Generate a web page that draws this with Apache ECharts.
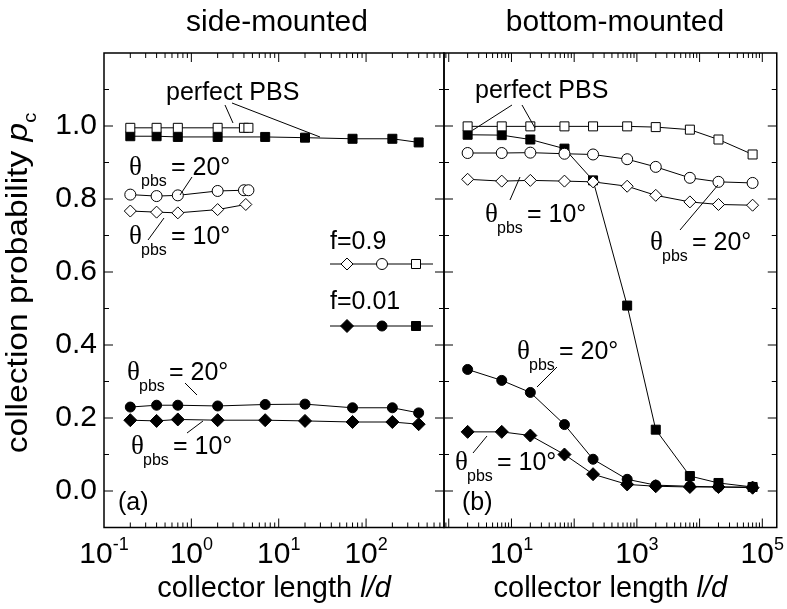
<!DOCTYPE html>
<html>
<head>
<meta charset="utf-8">
<script src="https://cdn.jsdelivr.net/npm/echarts@6/dist/echarts.min.js"></script>
<style>
html, body { margin: 0; padding: 0; background: #fff; }
#chart { width: 787px; height: 609px; }
</style>
</head>
<body>
<div id="chart"></div>
<script>
// ---------- panel (a): side-mounted collector ----------
const sideLenF09Sq = [0.2, 0.4, 0.7, 2, 4, 4.5];
const sideF09Sq    = [0.995, 0.995, 0.995, 0.995, 0.995, 0.995];
const sideLenF09Ci = [0.2, 0.4, 0.7, 2, 4, 4.5];
const sideF09Ci    = [0.812, 0.808, 0.810, 0.822, 0.824, 0.824];
const sideLenF09Di = [0.2, 0.4, 0.7, 2, 4.2];
const sideF09Di    = [0.767, 0.764, 0.762, 0.771, 0.785];
const sideLenF001  = [0.2, 0.4, 0.7, 2, 7, 20, 70, 200, 400];
const sideF001Sq   = [0.972, 0.972, 0.970, 0.970, 0.970, 0.968, 0.965, 0.965, 0.955];
const sideF001Ci   = [0.230, 0.235, 0.235, 0.233, 0.237, 0.238, 0.228, 0.228, 0.214];
const sideF001Di   = [0.194, 0.192, 0.196, 0.194, 0.194, 0.192, 0.189, 0.189, 0.183];

// ---------- panel (b): bottom-mounted collector ----------
const botLen     = [2, 7, 20, 70, 200, 700, 2000, 7000, 20000, 70000];
const botF09Sq   = [0.999, 0.999, 0.999, 0.999, 0.999, 0.999, 0.997, 0.990, 0.963, 0.922];
const botF09Ci   = [0.926, 0.926, 0.927, 0.924, 0.922, 0.909, 0.888, 0.858, 0.847, 0.844];
const botF09Di   = [0.854, 0.849, 0.851, 0.849, 0.847, 0.835, 0.810, 0.792, 0.785, 0.783];
const botF001Sq  = [0.976, 0.975, 0.963, 0.938, 0.851, 0.508, 0.168, 0.041, 0.022, 0.011];
const botF001Ci  = [0.333, 0.303, 0.270, 0.182, 0.087, 0.032, 0.016, 0.013, 0.011, 0.011];
const botF001Di  = [0.162, 0.162, 0.152, 0.100, 0.046, 0.018, 0.013, 0.011, 0.011, 0.009];

// axis ranges and tick values
const sideRange = [0.1, 780];
const botRange  = [0.84, 1.7e5];
const yRange    = [-0.1, 1.2];
const yMajorTicks = [0, 0.2, 0.4, 0.6, 0.8, 1.0];
const yMinorTicks = [0.1, 0.3, 0.5, 0.7, 0.9, 1.1];
const panelTitles = ['side-mounted', 'bottom-mounted'];

const FONT  = '"Liberation Sans", Arial, Helvetica, sans-serif';
const SERIF = '"Liberation Serif", "DejaVu Serif", serif';

const pairs = (xs, ys) => xs.map((x, i) => [x, ys[i]]);

// decade ticks (major) and 2..9 ticks (minor) inside a log range
function logTicks(range) {
  const out = [];
  const lo = Math.floor(Math.log10(range[0])), hi = Math.ceil(Math.log10(range[1]));
  for (let e = lo; e <= hi; e++) {
    for (let m = 1; m <= 9; m++) {
      const v = m * Math.pow(10, e);
      if (v > range[0] * 1.001 && v < range[1] * 0.999) out.push([v, m === 1 ? 1 : 0]);
    }
  }
  return out;
}

function dataSeries(grid, xs, ys, symbol, filled, size, z) {
  return {
    type: 'line', xAxisIndex: grid, yAxisIndex: grid,
    data: pairs(xs, ys), symbol: symbol, symbolSize: size, showSymbol: true,
    lineStyle: { color: '#000', width: 1 },
    itemStyle: { color: filled ? '#000' : '#fff', borderColor: '#000', borderWidth: 1 },
    z: z, animation: false, emphasis: { disabled: true }, clip: false
  };
}

function xTickSeries(grid, range) {
  return {
    type: 'custom', xAxisIndex: grid, yAxisIndex: grid, silent: true, animation: false, z: 1,
    data: logTicks(range).map(t => [t[0], 0.5, t[1]]),
    renderItem: function (params, api) {
      const cs = params.coordSys;
      const x = api.coord([api.value(0), 0.5])[0];
      const len = api.value(2) ? 9 : 5;
      const b = cs.y + cs.height, t = cs.y;
      return { type: 'group', children: [
        { type: 'line', shape: { x1: x, y1: b, x2: x, y2: b - len }, style: { stroke: '#000', lineWidth: 1 } },
        { type: 'line', shape: { x1: x, y1: t, x2: x, y2: t + len }, style: { stroke: '#000', lineWidth: 1 } }
      ]};
    }
  };
}

function yTickSeries(grid) {
  const d = yMajorTicks.map(v => [1, v, 1]).concat(yMinorTicks.map(v => [1, v, 0]));
  return {
    type: 'custom', xAxisIndex: grid, yAxisIndex: grid, silent: true, animation: false, z: 1,
    data: d,
    renderItem: function (params, api) {
      const cs = params.coordSys;
      const y = api.coord([1, api.value(1)])[1];
      const len = api.value(2) ? 9 : 5;
      const l = cs.x, r = cs.x + cs.width;
      return { type: 'group', children: [
        { type: 'line', shape: { x1: l, y1: y, x2: l + len, y2: y }, style: { stroke: '#000', lineWidth: 1 } },
        { type: 'line', shape: { x1: r, y1: y, x2: r - len, y2: y }, style: { stroke: '#000', lineWidth: 1 } }
      ]};
    }
  };
}

function powLabel(oddOnly) {
  return function (v) {
    const e = Math.log10(v), k = Math.round(e);
    if (Math.abs(e - k) > 1e-6) return '';
    if (oddOnly && Math.abs(k % 2) !== 1) return '';
    return '{b|10}{s|' + k + '}';
  };
}

const tickRich = {
  b: { fontSize: 30, fontFamily: FONT, color: '#000', lineHeight: 36 },
  s: { fontSize: 18, fontFamily: FONT, color: '#000', verticalAlign: 'top', lineHeight: 36 }
};
const nameRich = {
  n: { fontSize: 29, fontFamily: FONT, color: '#000' },
  i: { fontSize: 29, fontFamily: FONT, color: '#000', fontStyle: 'italic' }
};

function xAxis(grid, range, oddOnly) {
  return {
    type: 'log', logBase: 10, gridIndex: grid, min: range[0], max: range[1],
    axisLine: { show: false }, axisTick: { show: false }, splitLine: { show: false },
    minorTick: { show: false },
    axisLabel: { formatter: powLabel(oddOnly), rich: tickRich, margin: 9, showMinLabel: true, showMaxLabel: true },
    name: '{n|collector length }{i|l/d}', nameLocation: 'middle', nameGap: 46,
    nameTextStyle: { rich: nameRich }
  };
}

function yAxis(grid, showLabels) {
  return {
    type: 'value', gridIndex: grid, min: yRange[0], max: yRange[1], interval: 0.1,
    axisLine: { show: false }, axisTick: { show: false }, splitLine: { show: false },
    axisLabel: {
      show: showLabels, margin: 7, fontSize: 30, fontFamily: FONT, color: '#000',
      formatter: function (v) {
        const k = Math.round(v * 10);
        return (k >= 0 && k <= 10 && k % 2 === 0) ? (k / 10).toFixed(1) : '';
      }
    }
  };
}

// ---------- annotation graphics ----------
const g = [];
function txt(x, y, text, size, opts) {
  g.push(Object.assign({
    type: 'text', x: x, y: y, silent: true, z: 50,
    style: { text: text, fontSize: size, fontFamily: FONT, fill: '#000', align: 'left', verticalAlign: 'middle' }
  }, opts || {}));
}
function seg(x1, y1, x2, y2) {
  g.push({ type: 'line', silent: true, z: 50, shape: { x1: x1, y1: y1, x2: x2, y2: y2 }, style: { stroke: '#000', lineWidth: 1 } });
}
function thetaLabel(x0, y0, deg) {
  g.push({ type: 'text', x: x0, y: y0, silent: true, z: 50,
    style: { text: 'θ', fontSize: 27, fontFamily: SERIF, fill: '#000', align: 'left', verticalAlign: 'middle' } });
  txt(x0 + 12, y0 + 14, 'pbs', 16);
  txt(x0 + 42, y0, '= ' + deg + '°', 25);
}

// titles
g.push({ type: 'text', x: 277, y: 23, silent: true,
  style: { text: panelTitles[0], fontSize: 30, fontFamily: FONT, fill: '#000', align: 'center', verticalAlign: 'middle' } });
g.push({ type: 'text', x: 615, y: 23, silent: true,
  style: { text: panelTitles[1], fontSize: 30, fontFamily: FONT, fill: '#000', align: 'center', verticalAlign: 'middle' } });

// y-axis title (stretched slightly along its length)
g.push({ type: 'text', x: 19, y: 283, rotation: Math.PI / 2, scaleX: 1.12, silent: true,
  style: {
    text: '{n|collection probability }{i|p}{c|c}', align: 'center', verticalAlign: 'middle',
    rich: {
      n: { fontSize: 30, fontFamily: FONT, fill: '#000' },
      i: { fontSize: 30, fontFamily: FONT, fill: '#000', fontStyle: 'italic' },
      c: { fontSize: 18, fontFamily: FONT, fill: '#000', verticalAlign: 'bottom', lineHeight: 42 }
    }
  } });

// panel (a) annotations
txt(166, 93, 'perfect PBS', 25);
seg(225, 105, 233, 123);
seg(232, 103, 320, 137);
thetaLabel(129, 168, 20);
seg(192, 177, 180, 195);
thetaLabel(129, 237, 10);
seg(164, 218, 148, 240);
thetaLabel(127, 373, 20);
seg(185, 383, 197, 395);
thetaLabel(131, 447, 10);
seg(187, 433, 203, 421);
txt(118, 503, '(a)', 25);

// legend
txt(330, 242, 'f=0.9', 25);
seg(330, 264, 433, 264);
g.push({ type: 'polygon', z: 51, shape: { points: [[347, 258], [353, 264], [347, 270], [341, 264]] }, style: { fill: '#fff', stroke: '#000', lineWidth: 1 } });
g.push({ type: 'circle', z: 51, shape: { cx: 382, cy: 264, r: 5.5 }, style: { fill: '#fff', stroke: '#000', lineWidth: 1 } });
g.push({ type: 'rect', z: 51, shape: { x: 411.5, y: 259.5, width: 9, height: 9 }, style: { fill: '#fff', stroke: '#000', lineWidth: 1 } });
txt(330, 302, 'f=0.01', 25);
seg(330, 326, 433, 326);
g.push({ type: 'polygon', z: 51, shape: { points: [[347, 319.5], [353.5, 326], [347, 332.5], [340.5, 326]] }, style: { fill: '#000', stroke: '#000', lineWidth: 1 } });
g.push({ type: 'circle', z: 51, shape: { cx: 382, cy: 326, r: 5 }, style: { fill: '#000', stroke: '#000', lineWidth: 1 } });
g.push({ type: 'rect', z: 51, shape: { x: 411.5, y: 321.5, width: 9, height: 9 }, style: { fill: '#000', stroke: '#000', lineWidth: 1 } });

// panel (b) annotations
txt(475, 91, 'perfect PBS', 25);
seg(512, 105, 473, 130);
seg(522, 105, 535, 128);
thetaLabel(485, 215, 10);
seg(520, 177, 510, 200);
thetaLabel(650, 243, 20);
seg(718, 185, 680, 230);
thetaLabel(517, 352, 20);
seg(557, 367, 537, 387);
thetaLabel(455, 463, 10);
seg(487, 436, 473, 453);
txt(462, 503, '(b)', 25);

const option = {
  backgroundColor: '#fff',
  animation: false,
  grid: [
    { left: 104, top: 53, width: 340, height: 474.5, show: true, borderColor: '#000', borderWidth: 1.5, backgroundColor: 'transparent' },
    { left: 444, top: 53, width: 338, height: 474.5, show: true, borderColor: '#000', borderWidth: 1.5, backgroundColor: 'transparent' }
  ],
  xAxis: [xAxis(0, sideRange, false), xAxis(1, botRange, true)],
  yAxis: [yAxis(0, true), yAxis(1, false)],
  series: [
    xTickSeries(0, sideRange), xTickSeries(1, botRange),
    yTickSeries(0), yTickSeries(1),
    // f = 0.01 (filled)
    dataSeries(0, sideLenF001, sideF001Sq, 'rect', true, 9, 10),
    dataSeries(0, sideLenF001, sideF001Ci, 'circle', true, 10, 10),
    dataSeries(0, sideLenF001, sideF001Di, 'diamond', true, 13, 10),
    dataSeries(1, botLen, botF001Sq, 'rect', true, 9, 10),
    dataSeries(1, botLen, botF001Ci, 'circle', true, 10, 10),
    dataSeries(1, botLen, botF001Di, 'diamond', true, 13, 10),
    // f = 0.9 (open)
    dataSeries(0, sideLenF09Sq, sideF09Sq, 'rect', false, 9, 11),
    dataSeries(0, sideLenF09Ci, sideF09Ci, 'circle', false, 11, 11),
    dataSeries(0, sideLenF09Di, sideF09Di, 'diamond', false, 12, 11),
    dataSeries(1, botLen, botF09Sq, 'rect', false, 9, 11),
    dataSeries(1, botLen, botF09Ci, 'circle', false, 11, 11),
    dataSeries(1, botLen, botF09Di, 'diamond', false, 12, 11)
  ],
  graphic: g
};

const chart = echarts.init(document.getElementById('chart'), null, { renderer: 'canvas' });
chart.setOption(option);
</script>
</body>
</html>
